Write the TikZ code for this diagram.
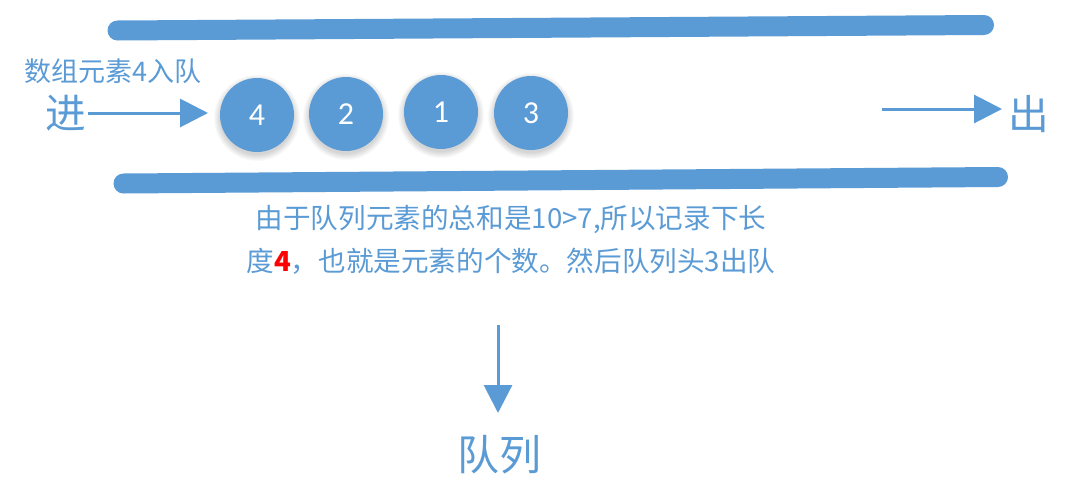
\documentclass[tikz,border=0pt]{standalone}
\usepackage{fontspec}
\newfontfamily\cjk{Noto Sans CJK SC}
\newfontfamily\digitfont{Carlito}
\usetikzlibrary{arrows.meta}
\definecolor{qblue}{HTML}{5B9BD5}
\begin{document}
\begin{tikzpicture}[x=0.75pt,y=-0.75pt,
  bar/.style={draw=qblue, line width=15pt, line cap=round},
  ball/.style={circle, fill=qblue, minimum size=55.5pt, inner sep=0pt, text=white, font=\digitfont\fontsize{24}{24}\selectfont},
  arr/.style={draw=qblue, line width=2.25pt, -{Triangle[length=21pt,width=21pt]}},
  lbl/.style={text=qblue, inner sep=0pt},
  big/.style={lbl, font=\cjk\fontsize{30.5}{30.5}\selectfont},
  small/.style={lbl, font=\cjk\fontsize{20.25}{20.25}\selectfont}
]
\useasboundingbox (0,0) rectangle (1087,479);
\fill[white] (0,0) rectangle (1087,479);
% bars
\draw[bar] (117.5,30.5) -- (984,25);
\draw[bar] (123.5,183.5) -- (998,177);
% balls with soft shadow
\foreach \x/\y/\n/\nm in {257/115/4/c4, 346/114/2/c2, 441/112/1/c1, 531/113/3/c3}{
  \foreach \k in {1,...,7}{
    \fill[black, opacity=0.025] (\x,\y+3) circle[radius={(36+\k)*0.75pt}];
  }
  \node[ball] (\nm) at (\x,\y) {\n};
}
% labels
\node[small] (enq) at (113,71) {数组元素4入队};
\node[big] (jin) at (66,113) {进};
\node[big] (chu) at (1029,114) {出};
\node[lbl, font=\cjk\fontsize{31.5}{31.5}\selectfont] (dui) at (499,455) {队列};
\node[lbl, align=center, font=\cjk\fontsize{20.7}{32.5}\selectfont] (cap) at (511,240)
  {由于队列元素的总和是10>7,所以记录下长\\度\textcolor{red}{\bfseries 4}，也就是元素的个数。然后队列头3出队};
% arrows
\coordinate (inS) at (88,113);
\coordinate (inE) at (208,113);
\draw[arr] (inS) -- (inE);
\coordinate (outS) at (882,109);
\coordinate (outE) at (1002,109);
\draw[arr] (outS) -- (outE);
\coordinate (dS) at (498,325);
\coordinate (dE) at (498,413);
\draw[arr] (dS) -- (dE);
\end{tikzpicture}
\end{document}
